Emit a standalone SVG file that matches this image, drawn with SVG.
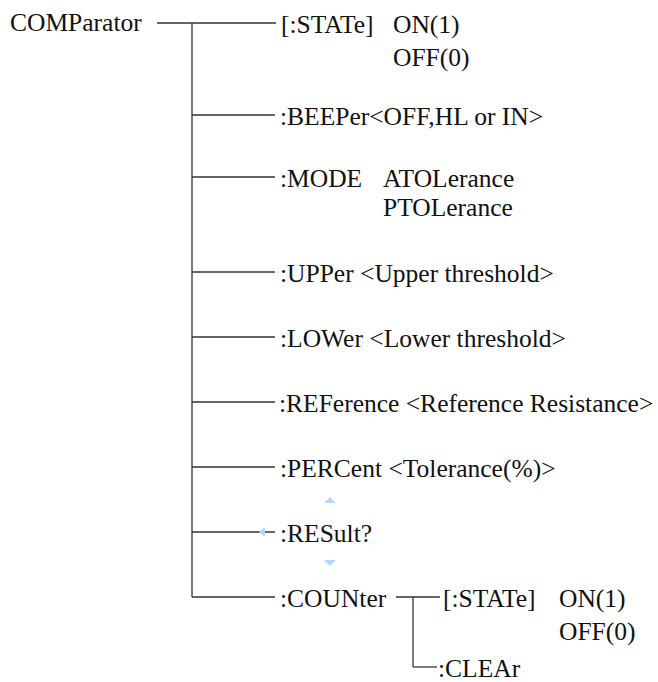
<svg xmlns="http://www.w3.org/2000/svg" width="658" height="682" viewBox="0 0 658 682">
<style>
text{font-family:"Liberation Serif","Times New Roman",serif;font-size:25.5px;fill:#111}
.ln{stroke:#333;stroke-width:1.3;fill:none}
.mk{fill:#b3d7fb}
</style>
<rect width="658" height="682" fill="#fff"/>
<g id="connectors">
<line class="ln" x1="157" y1="23" x2="276" y2="23"/>
<line class="ln" x1="192" y1="23" x2="192" y2="597"/>
<line class="ln" x1="192" y1="115" x2="275" y2="115"/>
<line class="ln" x1="192" y1="177" x2="275" y2="177"/>
<line class="ln" x1="192" y1="272" x2="275" y2="272"/>
<line class="ln" x1="192" y1="337" x2="275" y2="337"/>
<line class="ln" x1="192" y1="402" x2="275" y2="402"/>
<line class="ln" x1="192" y1="467" x2="275" y2="467"/>
<line class="ln" x1="192" y1="532" x2="275" y2="532"/>
<line class="ln" x1="192" y1="597" x2="275" y2="597"/>
<line class="ln" x1="396" y1="597" x2="440" y2="597"/>
<line class="ln" x1="413" y1="597" x2="413" y2="667"/>
<line class="ln" x1="413" y1="667" x2="437" y2="667"/>
</g>
<g id="comparator"><text x="10" y="31">COMParator</text></g>
<g id="state"><text x="281" y="33">[:STATe]</text><text x="393" y="33">ON(1)</text><text x="393" y="66">OFF(0)</text></g>
<g id="beeper"><text x="280" y="125">:BEEPer&lt;OFF,HL or IN&gt;</text></g>
<g id="mode"><text x="280" y="187">:MODE</text><text x="383" y="187">ATOLerance</text><text x="383" y="216">PTOLerance</text></g>
<g id="upper"><text x="280" y="282">:UPPer &lt;Upper threshold&gt;</text></g>
<g id="lower"><text x="280" y="347">:LOWer &lt;Lower threshold&gt;</text></g>
<g id="reference"><text x="279" y="412">:REFerence &lt;Reference Resistance&gt;</text></g>
<g id="percent"><text x="280" y="477">:PERCent &lt;Tolerance(%)&gt;</text></g>
<g id="result"><text x="280" y="542">:RESult?</text>
<polygon class="mk" points="324,503 336,503 330,497"/>
<polygon class="mk" points="324,560 336,560 330,566"/>
<polygon class="mk" points="265,527 265,537 259,532"/></g>
<g id="counter"><text x="280" y="607">:COUNter</text></g>
<g id="counter-state"><text x="443" y="607">[:STATe]</text><text x="559" y="607">ON(1)</text><text x="559" y="640">OFF(0)</text></g>
<g id="clear"><text x="438" y="677">:CLEAr</text></g>
</svg>
